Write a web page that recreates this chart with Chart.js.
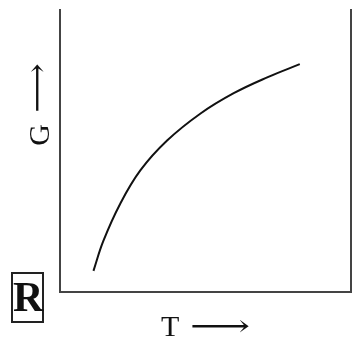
<!DOCTYPE html>
<html>
<head>
<meta charset="utf-8">
<script src="https://cdn.jsdelivr.net/npm/chart.js@4/dist/chart.umd.min.js"></script>
<style>
  html, body { margin: 0; padding: 0; background: #fff; }
  #wrap { position: relative; width: 353px; height: 338px; }
  #graph { position: absolute; left: 0; top: 0; }
  .lbl { position: absolute; font-family: "Liberation Serif", "DejaVu Serif", serif; color: #111; white-space: nowrap; line-height: 1; }
  #labelT { left: 161px; top: 311px; font-size: 30px; }
  #flechaT { left: 190px; top: 311px; font-size: 30px; transform: scaleX(1.4); transform-origin: left center; }
  #labelG { left: 39px; top: 135px; font-size: 30px; transform: translate(-50%, -50%) rotate(-90deg); }
  #flechaG { left: 37px; top: 88px; font-size: 30px; transform: translate(-50%, -50%) rotate(-90deg) scaleX(1.15); }
  #tag { left: 11px; top: 272px; width: 29px; height: 47px; border: 2px solid #222; font-weight: bold; font-size: 42px; line-height: 47px; text-align: center; }
</style>
</head>
<body>
<div id="wrap">
  <canvas id="graph" width="353" height="338"></canvas>
  <div class="lbl" id="labelG">G</div>
  <div class="lbl" id="flechaG">⟶</div>
  <div class="lbl" id="labelT">T</div>
  <div class="lbl" id="flechaT">⟶</div>
  <div class="lbl" id="tag">R</div>
</div>
<script>
//Datos de la curva G frente a T (unidades arbitrarias).
var temperaturas = [1.15, 1.49, 2.07, 2.76, 3.68, 4.83, 5.97, 7.14, 8.24];
var valoresG = [0.75, 1.81, 3.13, 4.31, 5.37, 6.33, 7.05, 7.62, 8.08];

var puntos = temperaturas.map(function(t, i) {
    return { x: t, y: valoresG[i] };
});

//Ejes sin marcas, solo la línea.
function ejeSimple(extra) {
    var eje = {
        type: 'linear',
        min: 0,
        max: 10,
        ticks: { display: false },
        grid: { display: false, drawTicks: false },
        border: { display: true, color: '#444', width: 2 }
    };
    return Object.assign(eje, extra || {});
}

var ctx = document.getElementById('graph').getContext('2d');
var grafico = new Chart(ctx, {
    type: 'line',
    data: {
        datasets: [{
            data: puntos,
            borderColor: '#111',
            borderWidth: 2,
            pointRadius: 0,
            fill: false,
            tension: 0.4
        }]
    },
    options: {
        responsive: false,
        animation: false,
        layout: { padding: { left: 60, top: 10, right: 2, bottom: 46 } },
        plugins: { legend: { display: false }, tooltip: { enabled: false } },
        scales: {
            x: ejeSimple({ position: 'bottom' }),
            y: ejeSimple({ position: 'left' }),
            y2: ejeSimple({ position: 'right' })
        }
    }
});
</script>
</body>
</html>
